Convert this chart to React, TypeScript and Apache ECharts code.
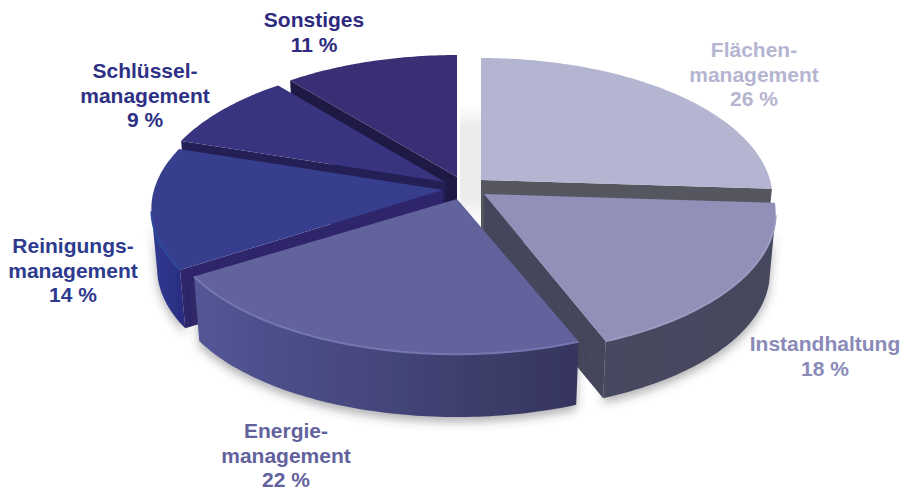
import React, { useEffect, useRef } from "react";
import * as echarts from "echarts";

const categories = ["Flächen-\nmanagement", "Instandhaltung", "Energie-\nmanagement", "Reinigungs-\nmanagement", "Schlüssel-\nmanagement", "Sonstiges"];
const shares = [26, 18, 22, 14, 9, 11];

// Look of the slices
const topColors = ["#b4b5d0", "#9090b9", "#62629d", "#373e8e", "#39347f", "#3c2e75"];
const faceColors = ["#55565f", "#45465c", "#36365f", "#2e256b", "#241f55", "#1f1a45"];
const wallLeftColors = ["#55565f", "#474860", "#535696", "#2f3a90", "#2f2a70", "#2f2a70"];
const wallRightColors = ["#55565f", "#45465c", "#35355d", "#2b2c80", "#2f2a70", "#2f2a70"];
const rimColors = ["#b4b5d0", "#9c9cc2", "#7676b0", "#2f4a9a", "#39347f", "#3c2e75"];
const labelColors = ["#b4b5d0", "#8a8ab8", "#62629d", "#2d3a8e", "#2d3185", "#2e2a7e"];

// Explosion of each slice: pixel position of its tip
const tipX = [481, 484, 457, 443, 445, 457];
const tipY = [180, 194, 199, 190, 182, 177];
const sliceDepth = [60, 60, 66, 60, 60, 60];
const sliceYScale = [1, 1, 0.97, 1, 1, 1];
const labelX = [754, 825, 286, 73, 145, 314];
const labelY = [74, 356, 455, 270, 95, 32];
const paintOrder = [5, 4, 0, 3, 1, 2];

// Perspective projection of the disc
const K = 0.1348;
const RX = 289;
const RY = 138.4;
const BOTTOM_SCALE = 0.98;

function project(deg: number) {
  const a = (deg * Math.PI) / 180;
  const u = Math.sin(a);
  const v = -Math.cos(a);
  const d = 1 - K * v;
  return { x: (RX * u) / d, y: (RY * v) / d, v };
}

function sweep(from: number, to: number) {
  const out: number[] = [];
  const n = Math.max(2, Math.ceil(to - from));
  for (let i = 0; i <= n; i++) out.push(from + ((to - from) * i) / n);
  return out;
}

function startAngle(i: number) {
  let sum = 0;
  for (let j = 0; j < i; j++) sum += shares[j];
  const total = shares.reduce((a, b) => a + b, 0);
  return (sum / total) * 360;
}

function renderSlice(_params: any, api: any) {
  const value = api.value(0);
  const i = api.value(1);
  const total = shares.reduce((a, b) => a + b, 0);
  const a0 = startAngle(i);
  const a1 = a0 + (value / total) * 360;
  const tx = tipX[i];
  const ty = tipY[i];
  const depth = sliceDepth[i];
  const ys = sliceYScale[i];
  const top = (d: number) => {
    const p = project(d);
    return [tx + p.x, ty + p.y * ys];
  };
  const bot = (d: number) => {
    const p = project(d);
    return [tx + p.x * BOTTOM_SCALE, ty + depth + p.y * ys * BOTTOM_SCALE];
  };
  const children: any[] = [];
  const angles = sweep(a0, a1);
  const front = angles.filter((d) => project(d).v >= K);

  if (front.length > 1) {
    const pts = [...front.map(top), ...front.slice().reverse().map(bot)];
    children.push({
      type: "polygon",
      shape: { points: pts },
      style: {
        fill: new echarts.graphic.LinearGradient(0, 0, 1, 0, [
          { offset: 0, color: wallLeftColors[i] },
          { offset: 1, color: wallRightColors[i] },
        ]),
        shadowColor: "rgba(60,60,70,0.4)",
        shadowBlur: 10,
        shadowOffsetY: 5,
      },
    });
  }
  const faceFor = (d: number) => [[tx, ty], top(d), bot(d), [tx, ty + depth]];
  if (Math.sin((a0 * Math.PI) / 180) < -0.01) {
    children.push({ type: "polygon", shape: { points: faceFor(a0) }, style: { fill: faceColors[i] } });
  }
  if (Math.sin((a1 * Math.PI) / 180) > 0.01) {
    children.push({ type: "polygon", shape: { points: faceFor(a1) }, style: { fill: faceColors[i] } });
  }
  children.push({
    type: "polygon",
    shape: { points: [[tx, ty], ...angles.map(top)] },
    style: { fill: topColors[i] },
  });
  if (front.length > 1) {
    children.push({
      type: "polyline",
      shape: { points: front.map(top) },
      style: { stroke: rimColors[i], lineWidth: 2, fill: "none" },
    });
  }
  return { type: "group", children };
}

const labelElements: any[] = categories.map((c, i) => ({
  type: "text",
  x: labelX[i],
  y: labelY[i],
  silent: true,
  z: 10,
  style: {
    text: `${c}\n${shares[i]} %`,
    font: 'bold 21px "Liberation Sans", Arial, sans-serif',
    lineHeight: 24.5,
    fill: labelColors[i],
    align: "center",
    verticalAlign: "middle",
  },
}));

const gapShadow: any = {
  type: "rect",
  silent: true,
  z: -1,
  shape: { x: 460, y: 104, width: 21, height: 118 },
  style: {
    fill: new echarts.graphic.LinearGradient(0, 0, 0, 1, [
      { offset: 0, color: "#ffffff" },
      { offset: 0.2, color: "#ececec" },
      { offset: 0.8, color: "#ececec" },
      { offset: 1, color: "#ffffff" },
    ]),
  },
};

export default function App() {
  const ref = useRef<HTMLDivElement>(null);
  useEffect(() => {
    if (!ref.current) return;
    const chart = echarts.init(ref.current, undefined, { renderer: "svg" });
    chart.setOption({
      animation: false,
      backgroundColor: "#ffffff",
      graphic: { elements: [gapShadow, ...labelElements] },
      series: [
        {
          type: "custom",
          coordinateSystem: "none",
          silent: true,
          z: 2,
          renderItem: renderSlice,
          data: paintOrder.map((i) => ({ name: categories[i], value: [shares[i], i] })),
        },
      ],
    });
    return () => chart.dispose();
  }, []);
  return <div ref={ref} style={{ position: "absolute", left: 0, top: 0, width: 905, height: 491 }} />;
}
